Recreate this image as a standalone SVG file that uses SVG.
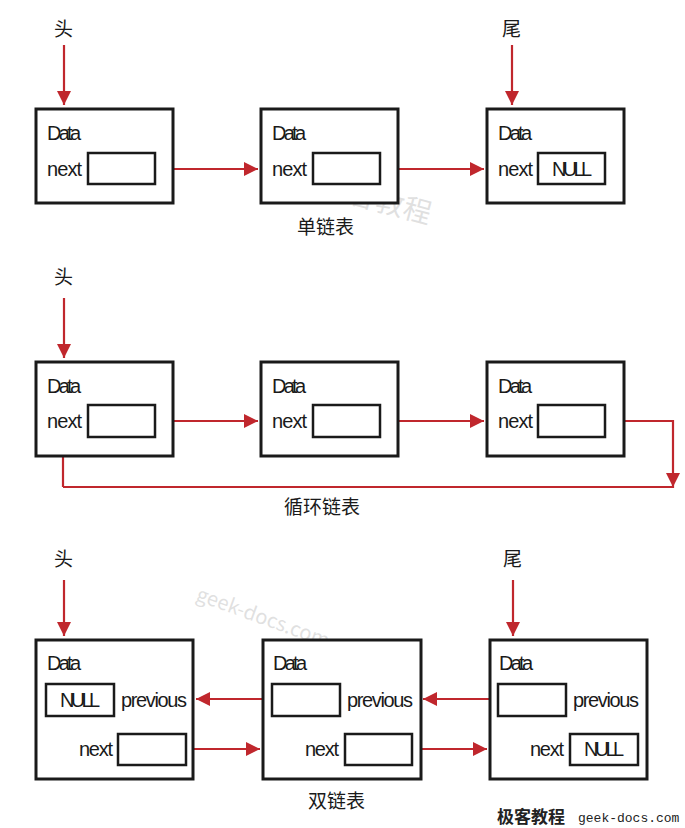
<svg xmlns="http://www.w3.org/2000/svg" width="685" height="828" viewBox="0 0 685 828">
<defs>
<marker id="ah" viewBox="0 0 10 10" refX="10" refY="5" markerWidth="5.5" markerHeight="5.5" orient="auto" markerUnits="userSpaceOnUse"><path d="M0,0 L10,5 L0,10 z" fill="#c0272d"/></marker>
<marker id="a" viewBox="0 0 10 10" refX="10" refY="5" markerWidth="14" markerHeight="14" orient="auto" markerUnits="userSpaceOnUse"><path d="M0,0 L10,5 L0,10 z" fill="#c0272d"/></marker>
</defs>
<style>
.box{fill:#fff;stroke:#1a1a1a;stroke-width:3}
.in{fill:#fff;stroke:#1a1a1a;stroke-width:2.5}
.t{font-family:"Liberation Sans",sans-serif;font-size:20px;fill:#1a1a1a;lengthAdjust:spacingAndGlyphs}
.c{font-family:"Noto Sans CJK SC",sans-serif;font-size:19px;fill:#1a1a1a}
.ln{stroke:#c0272d;stroke-width:2.2;fill:none;marker-end:url(#a)}
.wm{font-family:"Noto Sans CJK SC",serif;fill:#ccc}
</style>
<rect width="685" height="828" fill="#fff"/>
<text class="wm" x="320" y="195" font-size="28" transform="rotate(15 320 195)" fill-opacity="0.6">极客教程</text>
<text class="wm" x="195" y="600" font-size="20" font-family="Liberation Mono,monospace" transform="rotate(20 195 600)" fill-opacity="0.6">geek-docs.com</text>
<g id="connectors">
<path class="ln" d="M64,45 V105"/>
<path class="ln" d="M512,45 V105"/>
<path class="ln" d="M155,169 H258"/>
<path class="ln" d="M380,169 H484"/>
<path class="ln" d="M64,298 V358"/>
<path class="ln" d="M155,421 H258"/>
<path class="ln" d="M380,421 H484"/>
<path class="ln" d="M605,421 H673 V487 H63" style="marker-end:none"/>
<path class="ln" d="M63,487 V441"/>
<path class="ln" d="M673,421 V487" style="marker-end:url(#a)" stroke-opacity="0"/>
<path class="ln" d="M64,580 V636"/>
<path class="ln" d="M513,580 V636"/>
<path class="ln" d="M272,699 H196"/>
<path class="ln" d="M498,699 H423"/>
<path class="ln" d="M186,749 H260"/>
<path class="ln" d="M412,749 H487"/>
</g>
<g id="label-head1"><text class="c" x="54" y="36">头</text></g>
<g id="label-tail1"><text class="c" x="502" y="36">尾</text></g>
<g id="s1"><rect class="box" x="36" y="109" width="137" height="94"/><text class="t" x="47" y="140" textLength="34">Data</text><text class="t" x="47" y="176" textLength="35">next</text><rect class="in" x="88" y="153" width="67" height="31"/></g>
<g id="s2"><rect class="box" x="261" y="109" width="137" height="94"/><text class="t" x="272" y="140" textLength="34">Data</text><text class="t" x="272" y="176" textLength="35">next</text><rect class="in" x="313" y="153" width="67" height="31"/></g>
<g id="s3"><rect class="box" x="487" y="109" width="137" height="94"/><text class="t" x="498" y="140" textLength="34">Data</text><text class="t" x="498" y="176" textLength="35">next</text><rect class="in" x="538" y="153" width="67" height="31"/><text class="t" x="552" y="176" textLength="40">NULL</text></g>
<g id="label-single"><text class="c" x="297" y="234">单链表</text></g>
<g id="label-head2"><text class="c" x="54" y="284">头</text></g>
<g id="c1"><rect class="box" x="36" y="362" width="137" height="94"/><text class="t" x="47" y="393" textLength="34">Data</text><text class="t" x="47" y="428" textLength="35">next</text><rect class="in" x="88" y="405" width="67" height="32"/></g>
<g id="c2"><rect class="box" x="261" y="362" width="137" height="94"/><text class="t" x="272" y="393" textLength="34">Data</text><text class="t" x="272" y="428" textLength="35">next</text><rect class="in" x="313" y="405" width="67" height="32"/></g>
<g id="c3"><rect class="box" x="487" y="362" width="137" height="94"/><text class="t" x="498" y="393" textLength="34">Data</text><text class="t" x="498" y="428" textLength="35">next</text><rect class="in" x="538" y="405" width="67" height="32"/></g>
<g id="label-circ"><text class="c" x="284" y="514">循环链表</text></g>
<g id="label-head3"><text class="c" x="54" y="566">头</text></g>
<g id="label-tail3"><text class="c" x="503" y="566">尾</text></g>
<g id="d1"><rect class="box" x="36" y="640" width="157" height="139"/><text class="t" x="47" y="670" textLength="34">Data</text><rect class="in" x="46" y="684" width="68" height="32"/><text class="t" x="60" y="707" textLength="40">NULL</text><text class="t" x="121" y="707" textLength="66">previous</text><text class="t" x="79" y="756" textLength="34">next</text><rect class="in" x="118" y="734" width="68" height="31"/></g>
<g id="d2"><rect class="box" x="263" y="640" width="158" height="139"/><text class="t" x="273" y="670" textLength="34">Data</text><rect class="in" x="272" y="684" width="68" height="32"/><text class="t" x="347" y="707" textLength="66">previous</text><text class="t" x="305" y="756" textLength="34">next</text><rect class="in" x="345" y="734" width="67" height="31"/></g>
<g id="d3"><rect class="box" x="490" y="640" width="157" height="139"/><text class="t" x="499" y="670" textLength="34">Data</text><rect class="in" x="498" y="684" width="68" height="32"/><text class="t" x="573" y="707" textLength="66">previous</text><text class="t" x="530" y="756" textLength="34">next</text><rect class="in" x="570" y="734" width="68" height="31"/><text class="t" x="584" y="756" textLength="40">NULL</text></g>
<g id="label-double"><text class="c" x="308" y="808">双链表</text></g>
<text x="497" y="823" font-family="Noto Sans CJK SC,serif" font-weight="bold" font-size="17" fill="#222">极客教程</text>
<text x="578" y="822" font-family="Liberation Mono,monospace" font-size="13" fill="#222">geek-docs.com</text>
</svg>
